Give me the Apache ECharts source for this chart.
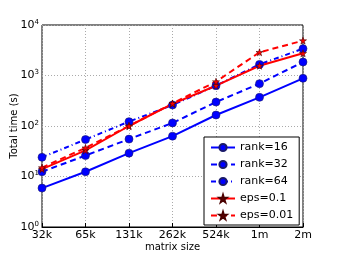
<!DOCTYPE html>
<html><head><meta charset="utf-8">
<script src="https://cdn.jsdelivr.net/npm/echarts@6/dist/echarts.min.js"></script>
<style>html,body{margin:0;padding:0;background:#fff}#c{width:338px;height:254px}</style>
</head><body><div id="c"></div>
<script>
const categories = ['32k','65k','131k','262k','524k','1m','2m'];
const rank16 = [5.9, 12.4, 29, 63, 165, 370, 880];
const rank32 = [12.4, 26, 55, 115, 298, 690, 1850];
const rank64 = [24, 54, 122, 260, 630, 1660, 3400];
const eps01 = [14, 33, 100, 275, 628, 1560, 2750];
const eps001 = [15, 37, 100, 280, 755, 2880, 4900];
const yTicks = [1, 10, 100, 1000, 10000];

const F = 'DejaVu Sans';
const STAR = 'path://M50,0 L61,35 L98,35 L68,57 L79,91 L50,70 L21,91 L32,57 L2,35 L39,35 Z';
const chart = echarts.init(document.getElementById('c'), null, {renderer:'canvas'});
function mk(name, data, color, lineType, symbol, size) {
  return {name, type:'line', data, symbol, symbolSize:size, showSymbol:true,
    lineStyle:{color, width:2, type:lineType},
    itemStyle:{color, borderColor: symbol==='circle' ? '#1a1a6a' : '#4a0000', borderWidth:0.6},
    emphasis:{disabled:true}, animation:false, z: 3};
}
chart.setOption({
  animation:false,
  grid:{left:42, right:35, top:25, bottom:27, show:true, borderColor:'#000', borderWidth:1, outerBoundsMode:'none', containLabel:false},
  xAxis:{type:'category', data:categories, boundaryGap:false,
    name:'matrix size', nameLocation:'middle', nameGap:15, nameMoveOverlap:false,
    nameTextStyle:{fontFamily:F, fontSize:10, color:'#000'},
    axisLine:{lineStyle:{color:'#000'}},
    axisTick:{inside:true, length:4, lineStyle:{color:'#000'}},
    axisLabel:{fontFamily:F, fontSize:11, color:'#000', margin:3},
    splitLine:{show:true, lineStyle:{color:'#aaa', type:[1,2], width:1}}},
  yAxis:{type:'log', logBase:10, min:1, max:10000,
    name:'Total time (s)', nameLocation:'middle', nameGap:23, nameMoveOverlap:false,
    nameTextStyle:{fontFamily:F, fontSize:10, color:'#000'},
    axisLine:{lineStyle:{color:'#000'}},
    axisTick:{inside:true, length:4, lineStyle:{color:'#000'}},
    minorTick:{show:false},
    axisLabel:{fontFamily:F, fontSize:11, color:'#000', margin:3,
      formatter:function(v){ const e = Math.round(Math.log10(v)); return '{b|10}{s|' + e + '}'; },
      rich:{b:{fontFamily:F, fontSize:11, color:'#000'}, s:{fontFamily:F, fontSize:7, color:'#000', verticalAlign:'top', padding:[0,0,6,0]}}},
    splitLine:{show:true, lineStyle:{color:'#aaa', type:[1,2], width:1}}},
  legend:{show:true, orient:'vertical', left:204, top:137,
    backgroundColor:'#fff', borderColor:'#000', borderWidth:1, padding:[5,6,4,6],
    itemGap:6, itemWidth:24, itemHeight:9,
    textStyle:{fontFamily:F, fontSize:11, color:'#000'},
    data:['rank=16','rank=32','rank=64','eps=0.1','eps=0.01']},
  series:[
    mk('rank=16', rank16, '#0000ff', 'solid', 'circle', 8),
    mk('rank=32', rank32, '#0000ff', [6,4], 'circle', 8),
    mk('rank=64', rank64, '#0000ff', [5,3,1,3], 'circle', 8),
    mk('eps=0.1', eps01, '#ff0000', 'solid', STAR, 7),
    mk('eps=0.01', eps001, '#ff0000', [6,4], STAR, 7)
  ]
});
</script></body></html>
